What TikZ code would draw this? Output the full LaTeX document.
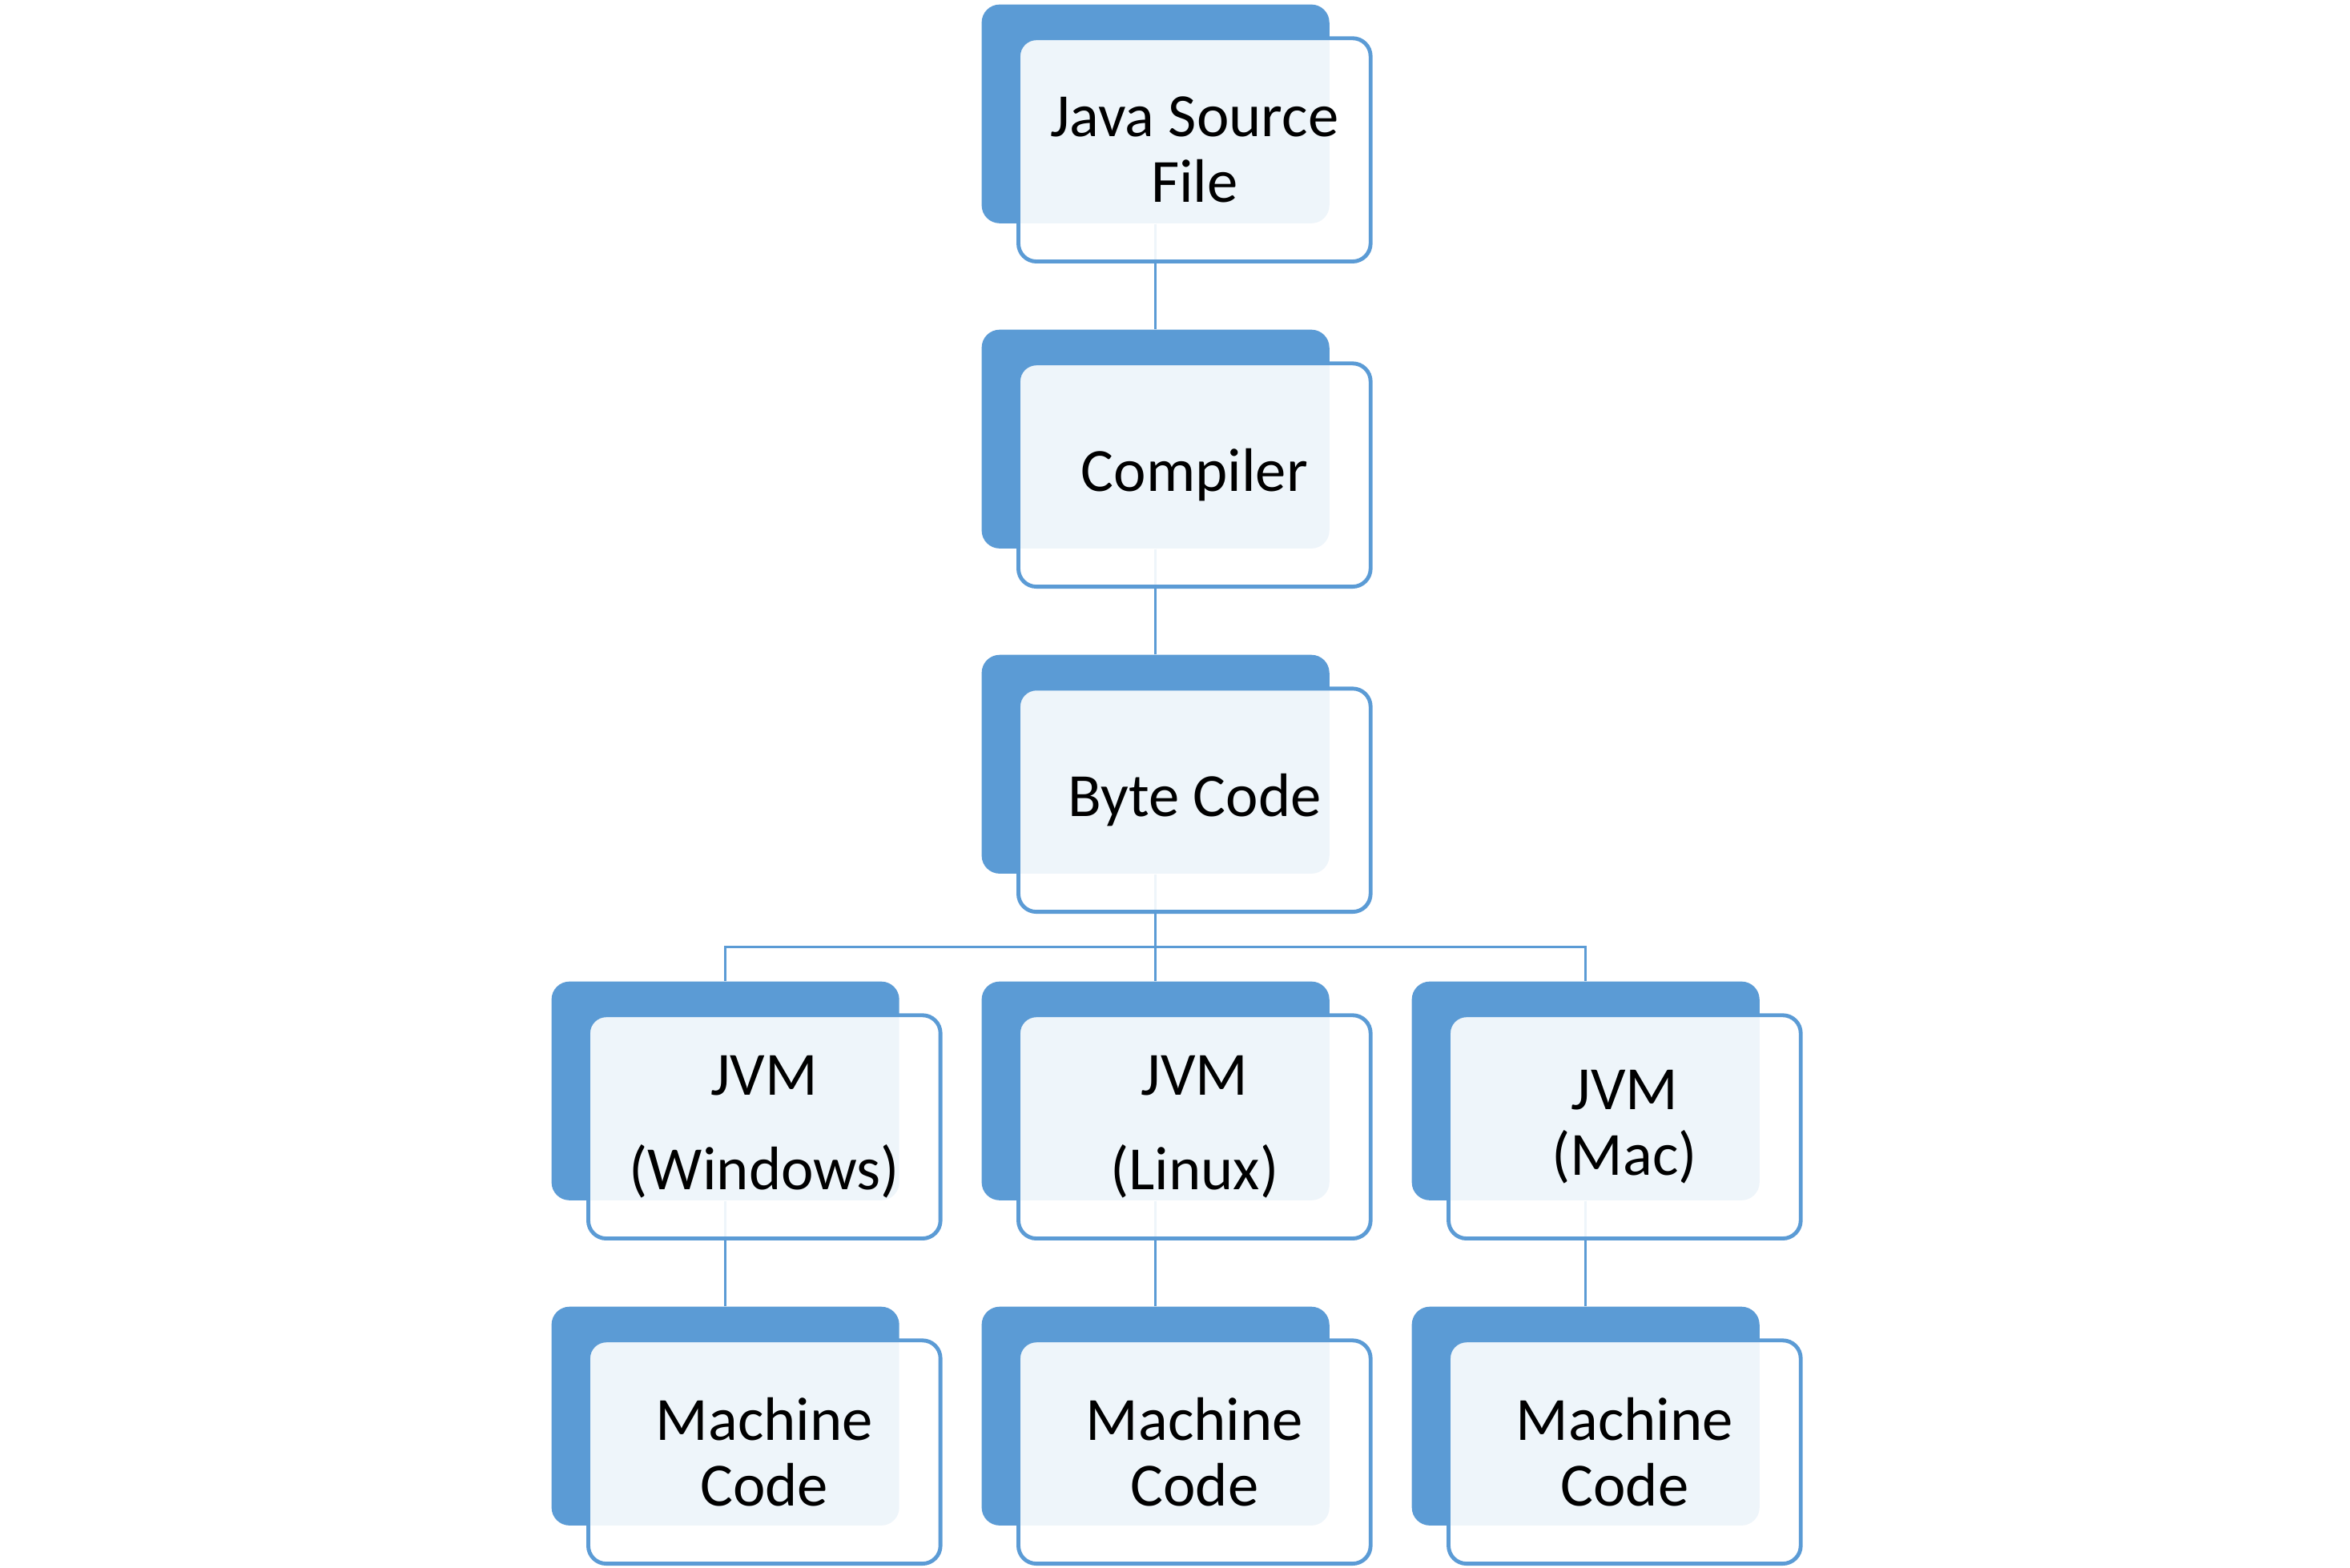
\documentclass[tikz,border=0pt]{standalone}
\usepackage{fontspec}
\setmainfont{Carlito}
\definecolor{ofblue}{HTML}{5B9BD5}
\begin{document}
\begin{tikzpicture}[x=0.5pt,y=-0.5pt,
  backbox/.style={fill=ofblue,draw=none,rounded corners=6pt,minimum width=116pt,minimum height=73pt,inner sep=0pt},
  frontbox/.style={fill=white,fill opacity=0.9,text opacity=1,draw=ofblue,draw opacity=1,line width=1.3pt,rounded corners=6pt,minimum width=117.5pt,minimum height=74.5pt,inner sep=0pt,align=center,font=\fontsize{20.5}{22}\selectfont,text=black},
  conn/.style={draw=ofblue,line width=0.9pt}]
\useasboundingbox (0,0) rectangle (1568,1046);
% back boxes
\node[backbox] (b1) at (771,76) {};
\node[backbox] (b2) at (771,293) {};
\node[backbox] (b3) at (771,510) {};
\node[backbox] (bw) at (484,728) {};
\node[backbox] (bl) at (771,728) {};
\node[backbox] (bm) at (1058,728) {};
\node[backbox] (mw) at (484,945) {};
\node[backbox] (ml) at (771,945) {};
\node[backbox] (mm) at (1058,945) {};
% connectors
\coordinate (bus) at (771,632);
\draw[conn] (b1.south) -- (b2.north);
\draw[conn] (b2.south) -- (b3.north);
\draw[conn] (b3.south) -- (bus);
\draw[conn] (bw.north) |- (bus) -| (bm.north);
\draw[conn] (bus) -- (bl.north);
\draw[conn] (bw.south) -- (mw.north);
\draw[conn] (bl.south) -- (ml.north);
\draw[conn] (bm.south) -- (mm.north);
% front boxes
\node[frontbox] (f1) at (797,100) {Java Source\\File};
\node[frontbox] (f2) at (797,317) {Compiler};
\node[frontbox] (f3) at (797,534) {Byte Code};
\node[frontbox] (fw) at (510,752) {JVM\\[9.5pt](Windows)};
\node[frontbox] (fl) at (797,752) {JVM\\[9.5pt](Linux)};
\node[frontbox] (fm) at (1084,752) {JVM\\(Mac)};
\node[frontbox] (gw) at (510,969) {Machine\\Code};
\node[frontbox] (gl) at (797,969) {Machine\\Code};
\node[frontbox] (gm) at (1084,969) {Machine\\Code};
\end{tikzpicture}
\end{document}
